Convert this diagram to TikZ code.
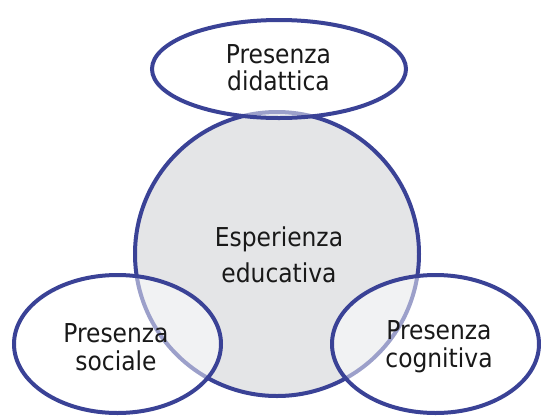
\documentclass[tikz,border=0pt]{standalone}
\usepackage{fontspec}
\setmainfont{DejaVu Sans Condensed}
\usetikzlibrary{positioning, shapes.geometric}

\definecolor{rimblue}{RGB}{58,66,150}
\definecolor{coregray}{RGB}{228,229,231}

\begin{document}
\begin{tikzpicture}[
    x=1pt, y=-1pt,
    % Styles
    core/.style={ % central circle
        circle,
        draw=rimblue,
        fill=coregray,
        line width=4pt,
        minimum size=284pt,
        inner sep=0pt
    },
    presence/.style={ % the three presences
        ellipse,
        draw=rimblue,
        fill=white,
        fill opacity=0.5,
        line width=4pt,
        inner sep=0pt
    },
    label/.style={ % text of a shape
        align=center,
        text=black!90,
        font=\fontsize{26}{28}\selectfont
    }
]
    \useasboundingbox (0,0) rectangle (541,416);

    % Central circle
    \node[core] (edu) at (277,254) {};

    % Presences on top of it
    \node[presence, minimum width=254pt, minimum height=98pt] (did) at (279,69) {};
    \node[presence, minimum width=207pt, minimum height=138pt] (soc) at (117.5,344) {};
    \node[presence, minimum width=207pt, minimum height=138pt] (cog) at (435.5,344) {};

    % Texts
    \node[label, font=\fontsize{26}{36}\selectfont] (edut) at (279,255) {Esperienza\\educativa};
    \node[label, font=\fontsize{26}{27}\selectfont] (didt) at (278.5,68) {Presenza\\didattica};
    \node[label] (soct) at (116,347) {Presenza\\sociale};
    \node[label] (cogt) at (439,347) {Presenza\\cognitiva};

\end{tikzpicture}
\end{document}
